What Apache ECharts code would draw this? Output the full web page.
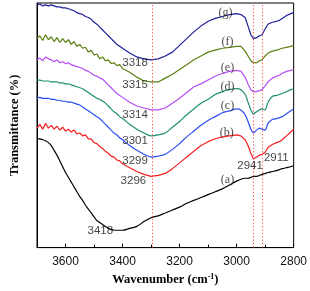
<!DOCTYPE html>
<html>
<head>
<meta charset="utf-8">
<script src="https://cdn.jsdelivr.net/npm/echarts@6/dist/echarts.min.js"></script>
<style>html,body{margin:0;padding:0;background:#fff}#c{width:310px;height:291px}</style>
</head>
<body>
<div id="c"></div>
<script>
// Wavenumber grid (cm-1)
var wavenumbers = [3700,3690,3680,3670,3660,3650,3640,3630,3620,3610,3600,3590,3580,3570,3560,3550,3540,3530,3520,3510,3500,3490,3480,3470,3460,3450,3440,3430,3420,3410,3400,
 3375,3350,3325,3300,3275,3250,3225,3200,3175,3150,3125,3100,3075,3050,3025,3000,
 2985,2970,2960,2950,2941,2930,2920,2911,2900,2890,2875,2860,2850,2840,2825,2810,2800];

// Transmittance (arbitrary units, curves offset)
var seriesA = [113,113,112,111,109,106,101,96,90,84,78,73,68,63,58,53,49,44,40,36,32,28,26,24,22,20,19,18,18,18,18,
 20,22,27,31,33,36,39,42,46,49,52,55,58,61,65,69,
 71,72,72,73,74,74,75,76,77,78,79,80,81,82,83,84,85];
var seriesB = [124,128,123,129,124,127,123,126,122,125,121,123,120,122,118,119,116,117,113,113,109,108,105,103,100,98,95,94,91,90,87,
 83,79,76,74,75,77,82,88,94,100,106,110,113,115,116,117,
 116,112,106,98,92,94,96,97,99,104,107,109,110,112,116,120,123];
var seriesC = [155,156,155,155,155,154,154,153,153,152,152,151,151,150,149,148,146,144,142,140,138,136,134,131,128,125,122,119,117,114,112,
 106,101,97,94,95,97,102,108,115,121,127,132,136,140,142,144,
 143,138,131,123,119,122,124,123,122,129,133,134,135,136,139,142,144];
var seriesD = [174,174,173,173,173,172,172,172,171,171,170,170,169,168,167,166,165,163,161,159,157,155,154,152,150,147,144,141,139,136,134,
 128,123,119,116,117,119,125,131,138,144,150,154,159,162,164,165,
 164,159,151,143,139,141,143,144,143,151,157,158,159,160,162,164,165];
var seriesE = [195,197,194,198,196,195,193,195,192,193,191,192,190,189,188,187,186,184,183,181,179,178,176,175,172,169,166,163,160,158,156,
 151,147,145,143,143,145,150,155,161,167,170,174,178,181,183,184,
 183,177,170,164,162,162,163,164,168,172,176,178,179,181,183,184,185];
var seriesF = [217,220,215,221,216,219,214,218,213,217,213,216,211,214,209,211,207,208,203,205,200,201,196,198,194,195,191,192,189,190,186,
 182,177,173,172,172,176,180,185,190,195,199,203,205,207,208,209,
 209,204,199,194,192,192,194,195,199,202,204,205,206,207,208,209,210];
var seriesG = [252,253,251,252,251,252,251,250,250,249,249,248,247,246,244,243,242,240,239,237,234,232,229,226,223,220,217,214,211,209,207,
 202,198,196,195,196,199,203,210,217,224,230,235,238,240,242,243,
 242,239,230,221,217,218,220,221,227,232,234,235,236,238,241,243,244];

var seriesNames = ['(a)','(b)','(c)','(d)','(e)','(f)','(g)'];
var seriesColors = ['#000000','#f51f1f','#2b4ff5','#1f8f72','#b44ef5','#5b7f10','#1f1f9a'];
var seriesSmooth = [0.3,0,0.3,0.3,0,0,0];

// Reference (dotted) lines
var markerLines = [3296, 2941, 2911];

// Annotations
var curveLabelText = ['(g)','(f)','(e)','(d)','(c)','(b)','(a)'];
var curveLabelWn   = [3039,3032,3032,3032,3032,3035,3032];
var curveLabelT    = [244,214,187,167,147,119,70];

var peakLabelText = ['3318','3315','3314','3301','3299','3296','3418','2941','2911'];
var peakLabelWn   = [3356,3356,3356,3356,3356,3362,3478,2953,2861];
var peakLabelT    = [192,169,138,111,90,69,17,85,93];

var xTicksMin = 2800, xTicksMax = 3700, xTickStep = 200;

function zip(xs, ys){ return xs.map(function(x,i){ return [x, ys[i]]; }); }

var allSeries = [seriesA, seriesB, seriesC, seriesD, seriesE, seriesF, seriesG];
var series = allSeries.map(function(vals, i){
  return {
    name: seriesNames[i], type: 'line', data: zip(wavenumbers, vals),
    showSymbol: false, symbol: 'none', smooth: seriesSmooth[i],
    lineStyle: { color: seriesColors[i], width: 1.2 },
    itemStyle: { color: seriesColors[i] },
    z: 3
  };
});

series.push({
  type: 'line', data: [], silent: true,
  markLine: {
    silent: true, symbol: ['none','none'], label: { show: false },
    lineStyle: { color: '#ff4a4a', type: [1.2, 2.2], width: 1 },
    data: markerLines.map(function(v){ return { xAxis: v }; })
  }
});

series.push({
  type: 'scatter', symbolSize: 0, silent: true, z: 5,
  data: curveLabelText.map(function(t, i){ return { name: t, value: [curveLabelWn[i], curveLabelT[i]] }; }),
  label: { show: true, position: 'inside', formatter: function(p){ return p.name; },
    fontFamily: 'Liberation Serif', fontSize: 12, color: '#222' }
});
series.push({
  type: 'scatter', symbolSize: 0, silent: true, z: 5,
  data: peakLabelText.map(function(t, i){ return { name: t, value: [peakLabelWn[i], peakLabelT[i]] }; }),
  label: { show: true, position: 'inside', formatter: function(p){ return p.name; },
    fontFamily: 'Liberation Sans', fontSize: 11.5, color: '#111' }
});

var chart = echarts.init(document.getElementById('c'), null, { renderer: 'canvas' });
chart.setOption({
  animation: false,
  backgroundColor: '#fff',
  grid: { left: 31, right: 15, top: 3, bottom: 34, show: true, borderColor: '#000', borderWidth: 1 },
  xAxis: {
    type: 'value', min: xTicksMin, max: xTicksMax, interval: xTickStep, inverse: true,
    name: 'Wavenumber (cm{sup|-1})', nameLocation: 'middle', nameGap: 24,
    nameTextStyle: { fontFamily: 'Liberation Serif', fontWeight: 'bold', fontSize: 12.5, color: '#000',
      rich: { sup: { fontFamily: 'Liberation Serif', fontWeight: 'bold', fontSize: 8, verticalAlign: 'top', padding: [0,0,6,0] } } },
    axisLine: { show: true, lineStyle: { color: '#000', width: 1 } },
    axisTick: { show: true, inside: true, length: 4, lineStyle: { color: '#000' } },
    minorTick: { show: true, splitNumber: 2, length: 3, lineStyle: { color: '#000' } },
    splitLine: { show: false },
    axisLabel: { fontFamily: 'Liberation Sans', fontSize: 12, color: '#111', margin: 8,
      showMinLabel: true, showMaxLabel: false, formatter: function(v){ return String(v); } }
  },
  yAxis: {
    type: 'value', min: 0, max: 254,
    name: 'Transmittance (%)', nameLocation: 'middle', nameGap: 16,
    nameTextStyle: { fontFamily: 'Liberation Serif', fontWeight: 'bold', fontSize: 12.5, color: '#000' },
    axisLine: { show: true, lineStyle: { color: '#000', width: 1 } },
    axisTick: { show: false }, axisLabel: { show: false }, splitLine: { show: false }
  },
  series: series
});
</script>
</body>
</html>
